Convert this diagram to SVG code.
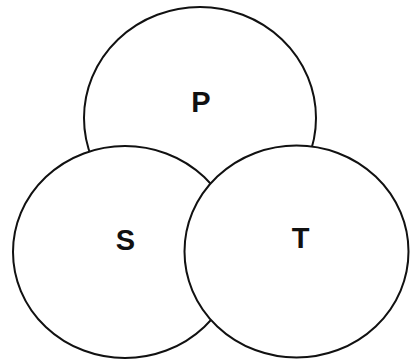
<svg xmlns="http://www.w3.org/2000/svg" width="410" height="363" viewBox="0 0 410 363">
<style>
.c{fill:#fff;stroke:#111;stroke-width:2}
.t{font-family:"Liberation Sans",Arial,sans-serif;font-weight:bold;font-size:29px;fill:#111;text-anchor:middle}
</style>
<rect width="410" height="363" fill="#fff"/>
<g id="P"><ellipse class="c" cx="200" cy="118" rx="116" ry="111"/><text class="t" x="201" y="112">P</text></g>
<g id="S"><ellipse class="c" cx="125" cy="252" rx="112" ry="106"/><text class="t" x="125.5" y="250">S</text></g>
<g id="T"><ellipse class="c" cx="296.5" cy="251.5" rx="112" ry="106"/><text class="t" x="300.5" y="248">T</text></g>
<g id="connectors"/>
</svg>
